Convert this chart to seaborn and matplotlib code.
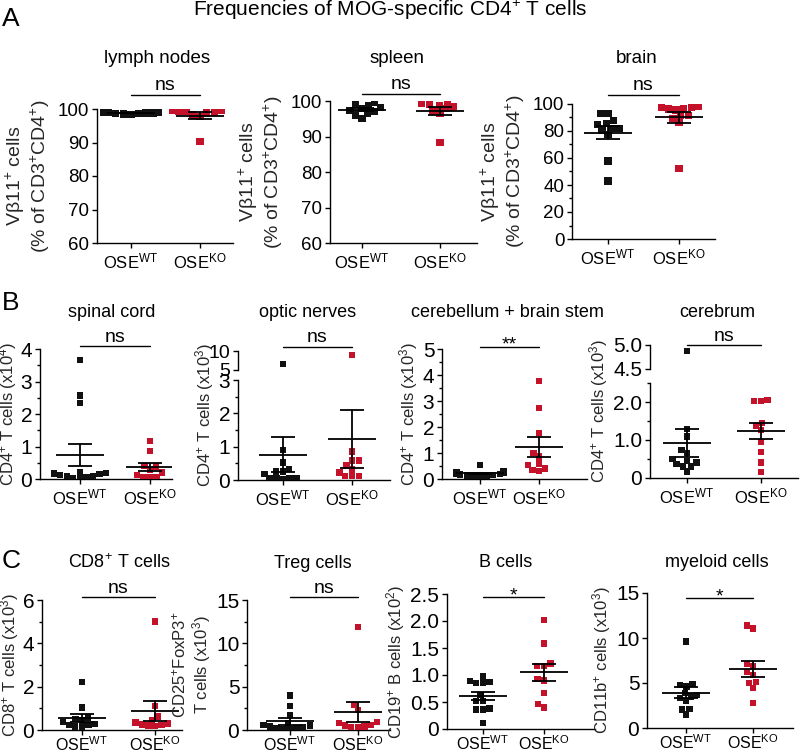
import numpy as np
import pandas as pd
import matplotlib
matplotlib.use("Agg")
import matplotlib.pyplot as plt
import seaborn as sns
from matplotlib.transforms import blended_transform_factory
from matplotlib.lines import Line2D
from matplotlib.ticker import MultipleLocator, FixedLocator, FuncFormatter

# ---------------- data ----------------
groups = ["WT", "KO"]
group_labels = ["OSE$^{\\mathrm{WT}}$", "OSE$^{\\mathrm{KO}}$"]

# Panel A  (% Vb11+ of CD3+CD4+)
ln_wt = [99.0, 98.8, 99.2, 98.5, 98.7, 99.0, 98.6, 98.9, 98.4, 99.1, 98.8]
ln_ko = [99.5, 99.3, 99.6, 99.0, 98.8, 98.2, 97.8, 99.4, 90.2]
sp_wt = [99.5, 99.0, 98.6, 98.2, 97.8, 97.4, 97.0, 96.5, 96.0, 95.0]
sp_ko = [99.8, 99.4, 99.0, 98.7, 98.3, 97.8, 97.2, 96.6, 88.3]
br_wt = [93.0, 93.0, 88.0, 85.7, 85.0, 82.0, 82.0, 80.7, 77.5, 57.8, 43.0]
br_ko = [97.5, 96.3, 95.6, 96.3, 97.3, 98.0, 89.4, 91.4, 91.4, 86.2, 52.3]

# Panel B  (CD4+ T cells)
sc_wt = [3.66, 2.57, 2.33, 0.22, 0.19, 0.15, 0.12, 0.08, 0.05, 0.03, 0.02, 0.10, 0.17]
sc_ko = [1.17, 0.86, 0.40, 0.38, 0.20, 0.12, 0.28, 0.07, 0.05, 0.07]
on_wt = [6.5, 0.90, 0.52, 0.25, 0.25, 0.33, 0.18, 0.05, 0.05, 0.03, 0.05, 0.06]
on_ko = [9.0, 0.85, 0.58, 0.58, 0.43, 0.32, 0.22, 0.12, 0.12, 0.12]
cb_wt = [0.54, 0.30, 0.27, 0.24, 0.21, 0.18, 0.15, 0.12, 0.10, 0.08, 0.14, 0.19, 0.25, 0.28]
cb_ko = [3.78, 2.74, 1.78, 0.99, 0.86, 0.60, 0.53, 0.40, 0.31, 0.35]
cr_wt = [4.87, 1.29, 1.09, 0.74, 0.65, 0.50, 0.45, 0.41, 0.30, 0.37, 0.30, 0.17]
cr_ko = [2.03, 2.02, 2.05, 1.45, 1.37, 1.26, 0.94, 0.68, 0.41, 0.15]

# Panel C
cd8_wt = [2.21, 1.04, 0.58, 0.50, 0.47, 0.38, 0.27, 0.23, 0.17, 0.17, 0.23]
cd8_ko = [5.0, 1.11, 0.63, 0.45, 0.35, 0.30, 0.25, 0.22, 0.20, 0.18]
tr_wt = [4.0, 2.8, 1.7, 0.8, 0.6, 0.5, 0.4, 0.3, 0.25, 0.2, 0.15, 0.1]
tr_ko = [11.9, 2.9, 2.3, 0.9, 0.8, 0.6, 0.5, 0.4, 0.3, 0.3]
b_wt = [0.89, 0.85, 0.85, 0.87, 0.97, 0.63, 0.52, 0.52, 0.36, 0.36, 0.38, 0.11]
b_ko = [2.02, 1.58, 1.17, 1.17, 1.21, 0.93, 0.90, 0.67, 0.46, 0.40]
my_wt = [9.6, 4.9, 4.6, 4.8, 3.5, 3.35, 3.7, 3.9, 3.0, 2.1, 2.05, 1.5]
my_ko = [11.07, 11.4, 7.13, 6.84, 5.9, 6.2, 5.0, 5.1, 4.45, 2.8]

# ---------------- style ----------------
BLACK = "#111111"
RED = "#c3122a"
palette = {"WT": BLACK, "KO": RED}

sns.set_style("ticks")
plt.rcParams.update({
    "font.family": ["Liberation Sans", "DejaVu Sans"],
    "mathtext.fontset": "custom",
    "mathtext.rm": "Liberation Sans",
    "mathtext.it": "Liberation Sans:italic",
    "mathtext.bf": "Liberation Sans:bold",
    "axes.linewidth": 1.0,
    "axes.edgecolor": "black",
    "xtick.color": "black", "ytick.color": "black",
    "xtick.major.width": 1.0, "ytick.major.width": 1.0, "ytick.minor.width": 1.0,
    "xtick.major.size": 3.5, "ytick.major.size": 3.5, "ytick.minor.size": 2.5,
    "xtick.major.pad": 2.5, "ytick.major.pad": 2.0,
    "text.color": "black",
})

W, H = 800, 752
fig = plt.figure(figsize=(W / 100, H / 100), dpi=100)
fig.patch.set_facecolor("white")


def fy(y):
    return 1 - y / H


def px_axes(l, r, t, b):
    return fig.add_axes([l / W, 1 - b / H, (r - l) / W, (b - t) / H])


def fmt_dec(v, pos):
    return "0" if abs(v) < 1e-9 else f"{v:.1f}"


def swarm(ax, wt, ko, ms):
    df = pd.DataFrame({"group": ["WT"] * len(wt) + ["KO"] * len(ko),
                       "value": list(wt) + list(ko)})
    sns.swarmplot(data=df, x="group", y="value", hue="group", order=groups,
                  hue_order=groups, palette=palette, marker="s", size=ms,
                  linewidth=0, legend=False, ax=ax, zorder=3)
    return df


def stats(ax, df, spacing):
    hw, cw = 24 / spacing, 12 / spacing
    st = df.groupby("group")["value"].agg(["mean", "sem"]).reindex(groups)
    for i, (m, s) in enumerate(st.values):
        ax.hlines(m, i - hw, i + hw, colors="black", lw=1.3, zorder=5)
        ax.hlines([m - s, m + s], i - cw, i + cw, colors="black", lw=1.3, zorder=5)
        ax.vlines(i, m - s, m + s, colors="black", lw=1.3, zorder=5)


def finish(ax, l, r, wtx, kox, tick_fs, xpad=2.5, xfs=12):
    sp = kox - wtx
    ax.set_xlim((l - wtx) / sp, 1 + (r - kox) / sp)
    sns.despine(ax=ax)
    ax.set_xlabel("")
    ax.set_xticks([0, 1])
    ax.set_xticklabels(group_labels, fontsize=xfs)
    ax.tick_params(axis="x", pad=xpad)
    ax.tick_params(axis="y", labelsize=tick_fs)
    return sp


def bracket(ax, yline, ytext, sig, x0=0, x1=1):
    tr = blended_transform_factory(ax.transData, fig.transFigure)
    fig.add_artist(Line2D([x0, x1], [fy(yline)] * 2, transform=tr, color="black", lw=1.0))
    fig.text((x0 + x1) / 2, fy(ytext), sig, transform=tr, ha="center",
             va="baseline", fontsize=14)


def simple_panel(wt, ko, l, r, t, b, wtx, kox, ylim, major, minor, ylabel,
                 tick_fs, ms, yline, ytext, sig, lfs=12, formatter=None,
                 labelpad=2, xpad=2.5, xfs=12):
    ax = px_axes(l, r, t, b)
    df = swarm(ax, wt, ko, ms)
    sp = finish(ax, l, r, wtx, kox, tick_fs, xpad, xfs)
    ax.set_ylim(*ylim)
    ax.yaxis.set_major_locator(MultipleLocator(major))
    if minor:
        ax.yaxis.set_minor_locator(MultipleLocator(minor))
    if formatter:
        ax.yaxis.set_major_formatter(FuncFormatter(formatter))
    ax.set_ylabel(ylabel, fontsize=lfs, labelpad=labelpad, linespacing=1.1)
    stats(ax, df, sp)
    bracket(ax, yline, ytext, sig)
    return ax


def broken_panel(wt, ko, l, r, tb, bb, tt, bt, wtx, kox, ylim_b, ylim_t,
                 major_b, minor_b, ticks_t, tlabels_t, ylabel, tick_fs, ms,
                 yline, ytext, sig, formatter=None, top_fs=None):
    axb = px_axes(l, r, tb, bb)
    axt = px_axes(l, r, tt, bt)
    df = swarm(axb, wt, ko, ms)
    swarm(axt, wt, ko, ms)
    sp = finish(axb, l, r, wtx, kox, tick_fs)
    axb.set_ylim(*ylim_b)
    axb.yaxis.set_major_locator(MultipleLocator(major_b))
    axb.yaxis.set_minor_locator(MultipleLocator(minor_b))
    if formatter:
        axb.yaxis.set_major_formatter(FuncFormatter(formatter))
    stats(axb, df, sp)
    # top segment of the broken axis
    axt.set_xlim(axb.get_xlim())
    axt.set_ylim(*ylim_t)
    sns.despine(ax=axt, bottom=True)
    axt.set_xticks([])
    axt.set_xlabel("")
    axt.set_ylabel("")
    axt.yaxis.set_major_locator(FixedLocator(ticks_t))
    axt.set_yticklabels(tlabels_t)
    axt.tick_params(axis="y", labelsize=top_fs or tick_fs)
    axt.patch.set_alpha(0)
    # y label centred over both segments
    axb.set_ylabel(ylabel, fontsize=12, labelpad=2)
    mid = (bb + tt) / 2
    axb.yaxis.label.set_y((bb - mid) / (bb - tb))
    bracket(axb, yline, ytext, sig)
    return axb, axt


# ---------------- Panel A ----------------
ylab_a = "Vβ11$^{+}$ cells\n(% of CD3$^{+}$CD4$^{+}$)"
simple_panel(ln_wt, ln_ko, 97, 233, 109, 243, 131, 200, (60, 100), 10, None,
             ylab_a, 13.5, 5.2, 95, 90, "ns", lfs=14, labelpad=4)
simple_panel(sp_wt, sp_ko, 330, 477, 101, 243, 362, 440, (60, 100), 10, None,
             ylab_a, 13.5, 5.2, 94, 89, "ns", lfs=14, labelpad=4)
simple_panel(br_wt, br_ko, 572, 715, 104, 239, 608, 679, (0, 100), 20, 10,
             ylab_a, 13.5, 5.2, 95, 90, "ns", lfs=14, labelpad=4)

# ---------------- Panel B ----------------
simple_panel(sc_wt, sc_ko, 40, 172, 349, 479, 80, 150, (0, 4), 1, 0.5,
             "CD4$^{+}$ T cells (x10$^{4}$)", 15, 4.6, 346, 342, "ns", labelpad=1)
broken_panel(on_wt, on_ko, 238, 390, 380, 480, 351, 370, 283, 352,
             (0, 3), (5, 10), 1, 0.5, [5, 10], ["5", "10"],
             "CD4$^{+}$ T cells (x10$^{3}$)", 15, 4.6, 347, 342, "ns", top_fs=14)
simple_panel(cb_wt, cb_ko, 442, 587, 349, 479, 480, 539, (0, 5), 1, 0.5,
             "CD4$^{+}$ T cells (x10$^{3}$)", 15, 4.6, 347, 349, "**")
broken_panel(cr_wt, cr_ko, 650, 798, 383, 478, 345, 369, 687, 761,
             (0, 2.5), (4.5, 5.0), 1, 0.5, [4.5, 5.0], ["4.5", "5.0"],
             "CD4$^{+}$ T cells (x10$^{3}$)", 15, 4.6, 345, 341, "ns",
             formatter=fmt_dec)

# ---------------- Panel C ----------------
simple_panel(cd8_wt, cd8_ko, 42, 182, 600, 730, 82, 155, (0, 6), 2, 1,
             "CD8$^{+}$ T cells (x10$^{3}$)", 15, 4.6, 597, 593, "ns",
             labelpad=1, xpad=0.5, xfs=11.5)
simple_panel(tr_wt, tr_ko, 247, 390, 600, 730, 290, 358, (0, 15), 5, 2.5,
             "CD25$^{+}$FoxP3$^{+}$\nT cells (x10$^{3}$)", 15, 4.6, 597, 593, "ns",
             xpad=0.5, xfs=11.5)
simple_panel(b_wt, b_ko, 447, 595, 594, 729, 483, 544, (0, 2.5), 0.5, None,
             "CD19$^{+}$ B cells (x10$^{2}$)", 15, 4.6, 597, 600, "*",
             formatter=fmt_dec, xpad=0.5, xfs=11.5)
simple_panel(my_wt, my_ko, 647, 793, 593, 728, 686, 753, (0, 15), 5, None,
             "CD11b$^{+}$ cells (x10$^{3}$)", 15, 4.6, 598, 601, "*",
             xpad=0.5, xfs=11.5)

# ---------------- texts ----------------
fig.text(390 / W, fy(15.5), "Frequencies of MOG-specific CD4$^{+}$ T cells",
         ha="center", va="baseline", fontsize=15)
for letter, yb in [("A", 26), ("B", 310), ("C", 568)]:
    fig.text(2 / W, fy(yb), letter, ha="left", va="baseline", fontsize=19)

subtitles = [("lymph nodes", 157, 63), ("spleen", 397, 63), ("brain", 637, 63),
             ("spinal cord", 112, 317), ("optic nerves", 308, 317),
             ("cerebellum + brain stem", 507, 317), ("cerebrum", 717, 317),
             ("CD8$^{+}$ T cells", 119, 568), ("Treg cells", 313, 568),
             ("B cells", 506, 567), ("myeloid cells", 717, 567)]
for txt, xc, yb in subtitles:
    fig.text(xc / W, fy(yb), txt, ha="center", va="baseline",
             fontsize=13.5 if yb < 100 else 13)

fig.savefig("out.png", dpi=100, facecolor="white")
